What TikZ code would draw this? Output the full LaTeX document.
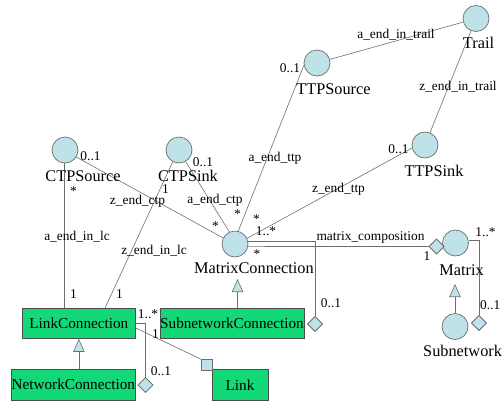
\documentclass[tikz,border=0pt]{standalone}
\usepackage{fontspec}
\setmainfont{Liberation Serif}
\usetikzlibrary{shapes.geometric,arrows.meta,calc}
\definecolor{cblue}{RGB}{190,226,232}
\definecolor{cgreen}{RGB}{18,216,120}
\definecolor{cline}{RGB}{110,110,110}
\begin{document}
\begin{tikzpicture}[x=1pt,y=-1pt,
  cls/.style={circle,draw=cline,fill=cblue,minimum size=26pt,inner sep=0pt,line width=0.7pt},
  box/.style={rectangle,draw=black!70,fill=cgreen,inner sep=0pt,minimum height=30.5pt,font=\fontsize{15.2}{18}\selectfont,line width=0.6pt},
  clab/.style={inner sep=0pt,font=\fontsize{16.3}{19}\selectfont},
  elab/.style={inner sep=0pt,font=\fontsize{13.4}{16}\selectfont},
  conn/.style={draw=cline,line width=0.6pt},
  inh/.style={conn,-{Triangle[length=13pt,width=11.5pt,fill=cblue]}},
  agg/.style={diamond,draw=cline,fill=cblue,minimum size=15pt,inner sep=0pt,line width=0.6pt},
  sqr/.style={rectangle,draw=cline,fill=cblue,minimum size=10.5pt,inner sep=0pt,line width=0.6pt}
]
\useasboundingbox (0,0) rectangle (503,400);
% class circles
\node[cls] (trail) at (476,18.5) {};
\node[cls] (ttpsource) at (317,63) {};
\node[cls] (ttpsink) at (425,145) {};
\node[cls] (ctpsource) at (65,150) {};
\node[cls] (ctpsink) at (179,150) {};
\node[cls] (mc) at (235,244) {};
\node[cls] (matrix) at (455.5,243) {};
\node[cls] (subnetwork) at (455,326.5) {};
% boxes
\node[box,minimum width=112.3pt] (lc) at (78.85,323.25) {LinkConnection};
\node[box,minimum width=144pt] (sc) at (232,323.25) {SubnetworkConnection};
\node[box,minimum width=123.3pt,minimum height=31pt] (nc) at (73.35,384.5) {NetworkConnection};
\node[box,minimum width=56pt,minimum height=31pt] (link) at (240,385) {Link};
% helper coordinates
\coordinate (mcinh) at (237.5,279);
\coordinate (mxinh) at (455,284);
% associations
\draw[conn] (ttpsource) -- (trail);
\draw[conn] (ttpsink) -- (trail);
\draw[conn] (ttpsource.190) -- (mc.76);
\draw[conn] (ttpsink.193) -- (mc.25);
\draw[conn] (ctpsource.-32) -- (mc.153);
\draw[conn] (ctpsink.-60) -- (mc.115);
\draw[conn] (ctpsink.242) -- ($(lc.north west)!0.733!(lc.north east)$);
\draw[conn] (ctpsource.265) -- (ctpsource.265 |- lc.north);
% aggregations
\node[agg] (mcagg) at (315,324) {};
\node[agg] (mxagg) at (436.5,246.5) {};
\node[agg] (snagg) at (479,323) {};
\node[agg] (lcagg) at (145.5,385) {};
\draw[conn] (mc.13) -| (mcagg.north);
\draw[conn] (mc.-11) -- (mxagg.west);
\draw[conn] (matrix.13) -| (snagg.north);
\draw[conn] (lc.east) -| (lcagg.north);
\node[agg] at (mcagg) {};
\node[agg] at (mxagg) {};
\node[agg] at (snagg) {};
\node[agg] at (lcagg) {};
% link square
\node[sqr] (lsq) at (207,365) {};
\draw[conn] ($(lc.east)+(0,4.5)$) -- (lsq.north west);
\node[sqr] at (lsq) {};
% inheritance
\draw[inh] (mcinh |- sc.north) -- (mcinh);
\draw[inh] (lc.south |- nc.north) -- (lc.south);
\draw[inh] (subnetwork.north) -- (mxinh);
% class labels
\node[clab] (trail-l) at (478.5,42.5) {Trail};
\node[clab] (ttpsource-l) at (333.5,89) {TTPSource};
\node[clab] (ttpsink-l) at (434,171) {TTPSink};
\node[clab] (ctpsource-l) at (83,176) {CTPSource};
\node[clab] (ctpsink-l) at (188,176) {CTPSink};
\node[clab] (mc-l) at (254,268.5) {MatrixConnection};
\node[clab] (matrix-l) at (461.5,270) {Matrix};
\node[clab,anchor=west] (subnetwork-l) at (423,351) {Subnetwork};
% role labels
\node[elab] (r1) at (396,35) {a\_end\_in\_trail};
\node[elab] (r2) at (458,87) {z\_end\_in\_trail};
\node[elab] (r3) at (275,158) {a\_end\_ttp};
\node[elab] (r4) at (338.5,189) {z\_end\_ttp};
\node[elab] (r5) at (137.5,201.5) {z\_end\_ctp};
\node[elab] (r6) at (215,200) {a\_end\_ctp};
\node[elab] (r7) at (77,237) {a\_end\_in\_lc};
\node[elab] (r8) at (154,251) {z\_end\_in\_lc};
\node[elab] (r9) at (370.5,237) {matrix\_composition};
% multiplicities
\node[elab] (m1) at (290,68) {0..1};
\node[elab] (m2) at (398.5,149) {0..1};
\node[elab] (m3) at (90.5,156) {0..1};
\node[elab] (m4) at (73.5,191) {*};
\node[elab] (m5) at (203,162) {0..1};
\node[elab] (m6) at (165.5,189.5) {1};
\node[elab] (m7) at (215.5,226) {*};
\node[elab] (m8) at (237.5,214.5) {*};
\node[elab] (m9) at (256.5,219.5) {*};
\node[elab] (m10) at (266,231) {1..*};
\node[elab] (m11) at (257,254.5) {*};
\node[elab] (m12) at (427,256) {1};
\node[elab] (m13) at (485.5,232.5) {1..*};
\node[elab] (m14) at (331,303) {0..1};
\node[elab,anchor=west] (m15) at (480,305) {0..1};
\node[elab] (m16) at (73.5,294) {1};
\node[elab] (m17) at (119.5,294) {1};
\node[elab] (m18) at (148,314) {1..*};
\node[elab] (m19) at (155.5,334) {1};
\node[elab] (m20) at (161,371) {0..1};
\end{tikzpicture}
\end{document}
